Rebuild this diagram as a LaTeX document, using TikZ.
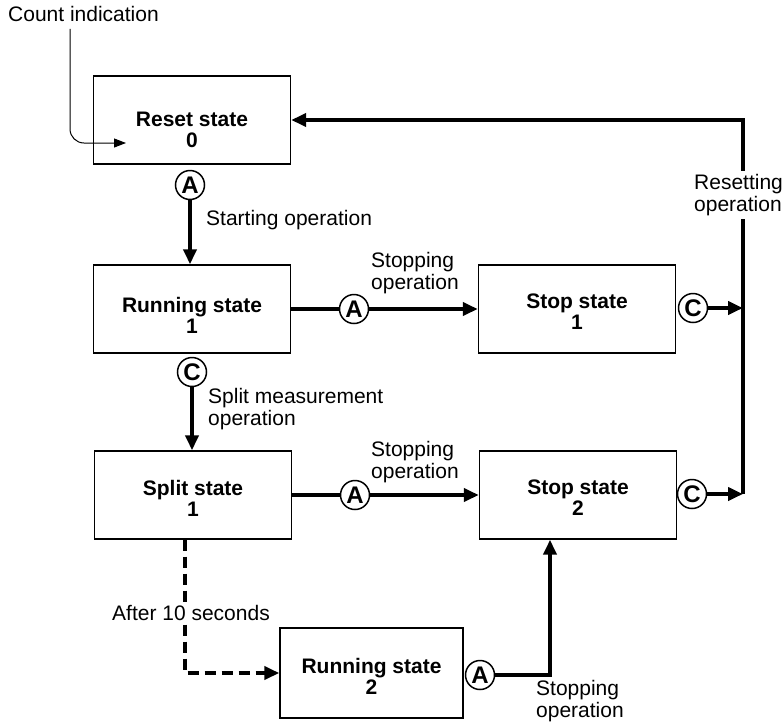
\documentclass[tikz,border=0pt]{standalone}
\usepackage{fontspec}
\setmainfont{Liberation Sans}
\usetikzlibrary{arrows.meta}

\tikzset{
    stbox/.style={draw, line width=1.4pt, minimum width=197pt, minimum height=88pt, inner sep=0pt},
    sttext/.style={font=\fontsize{21}{21}\selectfont\bfseries, align=center, inner sep=1pt},
    lbl/.style={font=\fontsize{21}{21.5}\selectfont, align=left, anchor=west, inner sep=1pt},
    letter/.style={draw, circle, fill=white, line width=1.5pt, minimum size=29pt, inner sep=0pt, font=\fontsize{24}{24}\selectfont\bfseries},
    flow/.style={line width=4pt},
    flowarr/.style={line width=4pt, -{Triangle[length=15pt,width=13pt]}},
    dasharr/.style={line width=4pt, dash pattern=on 11pt off 6pt, -{Triangle[length=15pt,width=13pt]}},
    thinarr/.style={line width=1pt, rounded corners=14pt, -{Triangle[length=12pt,width=9pt]}}
}

\begin{document}
\begin{tikzpicture}[x=1pt, y=-1pt]
    \useasboundingbox (0,0) rectangle (783,723);

    % states
    \node[stbox] (reset) at (192,120) {};
    \node[sttext] (resetlbl) at ([yshift=-10pt]reset.center) {Reset state\\0};
    \node[stbox] (run1) at (192,309) {};
    \node[sttext] (run1lbl) at ([yshift=-6pt]run1.center) {Running state\\1};
    \node[stbox] (split) at (193,495) {};
    \node[sttext] (splitlbl) at ([yshift=-3pt]split.center) {Split state\\1};
    \node[stbox] (stop1) at (577,309) {};
    \node[sttext] (stop1lbl) at ([yshift=-3pt]stop1.center) {Stop state\\1};
    \node[stbox] (stop2) at (578,495) {};
    \node[sttext] (stop2lbl) at ([yshift=-3pt]stop2.center) {Stop state\\2};
    \node[stbox, minimum width=183pt, minimum height=90pt] (run2) at (371.5,673) {};
    \node[sttext] (run2lbl) at ([yshift=-3pt]run2.center) {Running state\\2};

    % operation keys
    \node[letter] (a1) at (190,185) {A};
    \node[letter] (a2) at (354,309) {A};
    \node[letter] (c1) at (192,372) {C};
    \node[letter] (c2) at (693,308) {C};
    \node[letter] (a3) at (355,495) {A};
    \node[letter] (c3) at (692,494) {C};
    \node[letter] (a4) at (480,675) {A};

    % count indication
    \node[lbl] (count) at (7,14) {Count indication};
    \coordinate (cicorner) at (70,143);
    \coordinate (ciend) at (126,143);
    \draw[thinarr] ([yshift=-6pt]count.south -| cicorner) -- (cicorner) -- (ciend);

    % transitions
    \draw[flowarr] (a1.south) -- (a1.south |- run1.north);
    \node[lbl] (startop) at (205,220) {Starting operation};

    \draw[flow] (run1.east |- a2) -- (a2);
    \draw[flowarr] (a2) -- (stop1.west |- a2);
    \node[lbl] (stopop1) at (370,273) {Stopping\\operation};

    \draw[flowarr] (c1.south) -- (c1.south |- split.north);
    \node[lbl] (splitop) at (207,409) {Split measurement\\operation};

    \draw[flow] (split.east |- a3) -- (a3);
    \draw[flowarr] (a3) -- (stop2.west |- a3);
    \node[lbl] (stopop2) at (370,462) {Stopping\\operation};

    % resetting
    \coordinate (bus) at (743,494);
    \draw[flowarr] (c2) -- (c2 -| bus);
    \draw[flowarr] (c3) -- (c3 -| bus);
    \draw[flowarr] (bus) -- (bus |- reset.east) -- (reset.east);
    \node[lbl, fill=white, inner sep=3pt] (resetop) at (691,195) {Resetting\\operation};

    % after 10 seconds
    \coordinate (dn) at (185,673);
    \draw[dasharr] (split.south -| dn) -- (dn) -- (run2.west);
    \node[lbl, fill=white, inner sep=2pt] (after) at (110,613) {After 10 seconds};

    \coordinate (up) at (550,675);
    \draw[flowarr] (a4) -- (up) -- (up |- stop2.south);
    \node[lbl] (stopop3) at (535,701) {Stopping\\operation};
\end{tikzpicture}
\end{document}
